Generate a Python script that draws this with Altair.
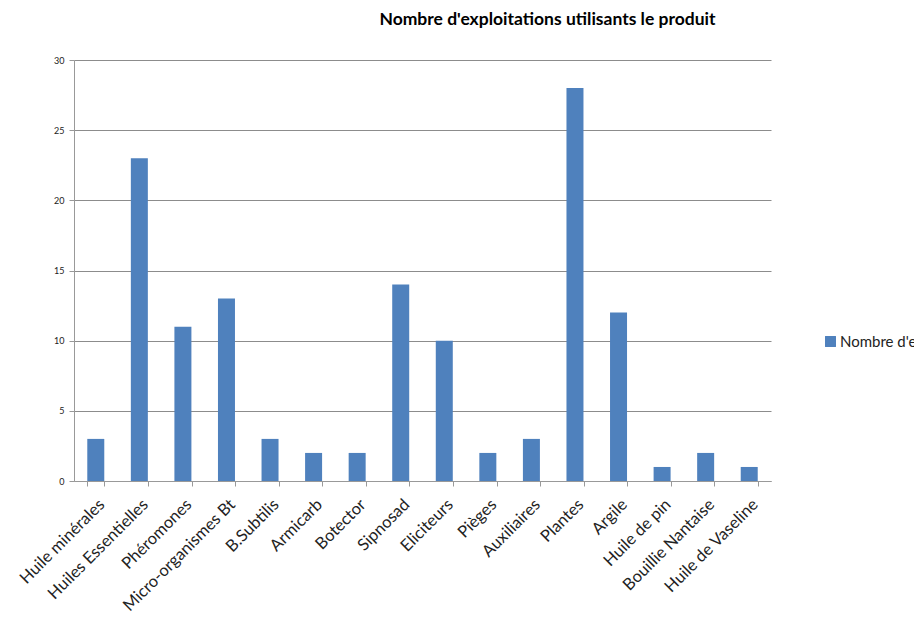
import altair as alt
import pandas as pd

categories = ["Huile minérales", "Huiles Essentielles", "Phéromones", "Micro-organismes Bt",
              "B.Subtilis", "Armicarb", "Botector", "Sipnosad", "Eliciteurs", "Pièges",
              "Auxiliaires", "Plantes", "Argile", "Huile de pin", "Bouillie Nantaise",
              "Huile de Vaseline"]
values = [3, 23, 11, 13, 3, 2, 2, 14, 10, 2, 3, 28, 12, 1, 2, 1]
series_name = "Nombre d'exploitations utilisants le produit"
y_ticks = [0, 5, 10, 15, 20, 25, 30]

df = pd.DataFrame({"cat": categories, "val": values, "serie": series_name})

font = "Lato"

chart = alt.Chart(df).mark_bar(size=17).encode(
    x=alt.X("cat:N", sort=categories, title=None,
            scale=alt.Scale(paddingInner=0.6, paddingOuter=0.3),
            axis=alt.Axis(labelAngle=-45, labelFont=font, labelFontSize=16.5, labelColor="#222",
                          labelAlign="right", labelBaseline="top", labelPadding=10,
                          tickBand="extent", tickColor="#999", tickSize=5,
                          domainColor="#999", labelLimit=250)),
    y=alt.Y("val:Q", title=None, scale=alt.Scale(domain=[0, 30], nice=False),
            axis=alt.Axis(values=y_ticks, labelFont=font, labelFontSize=9, labelColor="#222",
                          tickColor="#999", tickSize=5, domainColor="#999",
                          gridColor="#8c8c8c", gridWidth=1, labelPadding=5)),
    color=alt.Color("serie:N", scale=alt.Scale(range=["#4F81BD"]), title=None,
                    legend=alt.Legend(orient="none", legendX=749, legendY=274,
                                      symbolType="square", symbolSize=120,
                                      symbolStrokeWidth=0,
                                      labelFont=font, labelFontSize=15, labelColor="#222",
                                      labelLimit=90, labelOffset=2)),
).properties(
    width=697, height=421,
    padding={"left": 8, "top": 2, "right": -14, "bottom": 0},
    title=alt.Title(series_name, font=font, fontSize=17.5, fontWeight="bold",
                    color="#000", dx=125, dy=-4, offset=24, anchor="middle"),
).configure_view(stroke=None).configure_axisX(grid=False)

chart.save("out.html", embed_options={"renderer": "svg", "actions": False})
